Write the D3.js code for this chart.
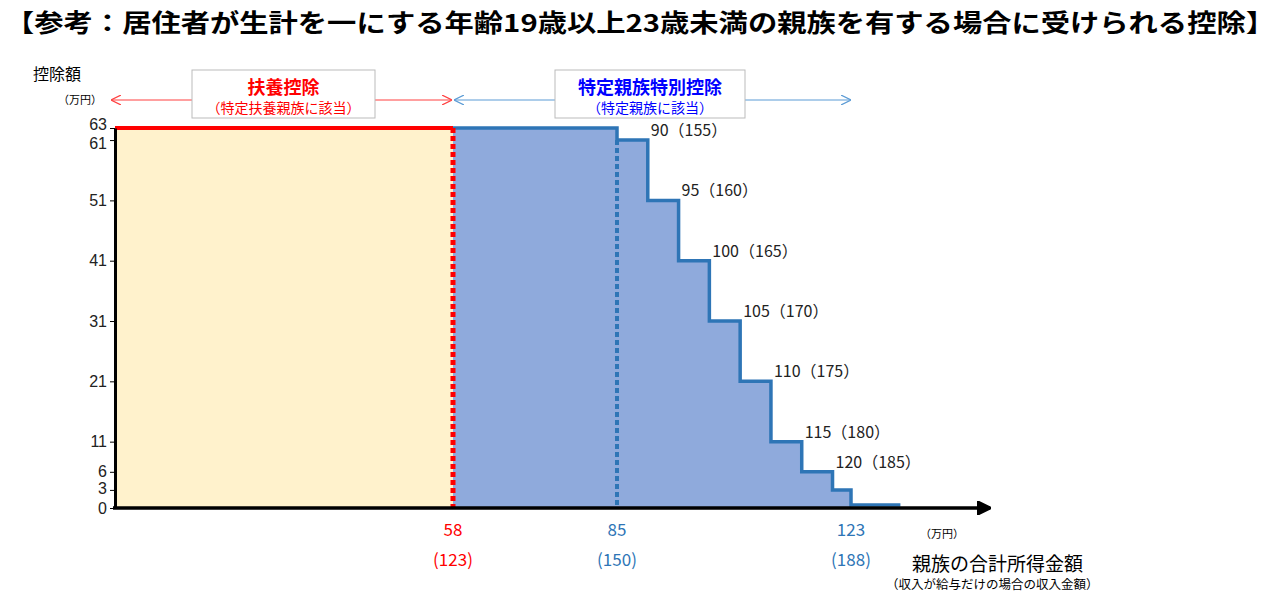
<!DOCTYPE html>
<html><head><meta charset="utf-8">
<script src="https://cdn.jsdelivr.net/npm/d3@7"></script>
<style>body{margin:0;background:#fff}svg{font-family:"Noto Sans CJK JP",sans-serif}</style>
</head><body><svg id="c" width="1280" height="608"></svg>
<script>
const yTicks = [0, 3, 6, 11, 21, 31, 41, 51, 61, 63];
// step function: [income start, deduction]
const steps = [[0, 63], [85, 61], [90, 51], [95, 41], [100, 31], [105, 21], [110, 11], [115, 6], [120, 3], [123, 0], [131, 0]];
const stepLabels = ["90（155）", "95（160）", "100（165）", "105（170）", "110（175）", "115（180）", "120（185）"];
const xMarks = [[58, "(123)", "#ff0000"], [85, "(150)", "#2e75b6"], [123, "(188)", "#2e75b6"]];

const svg = d3.select("#c");
const x = d3.scaleLinear().domain([0, 58, 85, 123, 140]).range([115, 453, 617, 851, 956]);
const y = d3.scaleLinear().domain([0, 63]).range([508, 128]);

const defs = svg.append("defs");
function marker(id, col, w, h) {
  defs.append("marker").attr("id", id).attr("viewBox", "0 0 10 10").attr("refX", 9).attr("refY", 5)
    .attr("markerWidth", w).attr("markerHeight", h).attr("orient", "auto-start-reverse")
    .append("path").attr("d", id === "ax" ? "M0,0L10,5L0,10Z" : "M0,0L10,5L0,10").attr("fill", id === "ax" ? col : "none")
    .attr("stroke", col).attr("stroke-width", 1.2);
}
marker("ar", "#ff4040", 10, 10); marker("ab", "#5b9bd5", 10, 10); marker("ax", "#000", 4, 4);

// areas
svg.append("rect").attr("x", x(0)).attr("y", y(63)).attr("width", x(58) - x(0)).attr("height", y(0) - y(63)).attr("fill", "#fff2cc");
const blue = steps.filter(d => d[0] >= 0);
const area = d3.area().curve(d3.curveStepAfter).x(d => x(Math.max(d[0], 58))).y0(y(0)).y1(d => y(d[1]));
svg.append("path").datum(blue).attr("d", area).attr("fill", "#8faadc");
svg.append("path").datum(steps.filter(d => d[0] >= 58 || d[0] === 0).map(d => [Math.max(d[0], 58), d[1]]))
  .attr("d", d3.line().curve(d3.curveStepAfter).x(d => x(d[0])).y(d => d[1] === 0 ? y(0) - 3 : y(d[1])))
  .attr("fill", "none").attr("stroke", "#2e75b6").attr("stroke-width", 3.5);
svg.append("line").attr("x1", x(0)).attr("x2", x(58)).attr("y1", y(63)).attr("y2", y(63)).attr("stroke", "#ff0000").attr("stroke-width", 4);
svg.append("line").attr("x1", x(58)).attr("x2", x(58)).attr("y1", y(63)).attr("y2", y(0)).attr("stroke", "#ff0000").attr("stroke-width", 5).attr("stroke-dasharray", "5,3");
svg.append("line").attr("x1", x(85)).attr("x2", x(85)).attr("y1", y(61)).attr("y2", y(0)).attr("stroke", "#2e75b6").attr("stroke-width", 4).attr("stroke-dasharray", "5,3");

// step labels
steps.slice(2, 9).forEach((d, i) => {
  svg.append("text").attr("x", x(d[0]) + 3).attr("y", y(steps[i + 1][1]) - 4).attr("font-size", 16).attr("fill", "#222").text(stepLabels[i]);
});

// axes
const ya = svg.append("g").attr("transform", `translate(${x(0)},0)`)
  .call(d3.axisLeft(y).tickValues(yTicks).tickSize(5).tickSizeOuter(0));
ya.select(".domain").attr("stroke-width", 3);
ya.selectAll("text").attr("font-size", 16).attr("fill", "#222")
  .attr("dy", d => d === 63 ? "0.1em" : d === 61 ? "0.55em" : d === 3 ? "0.25em" : "0.32em");
svg.append("line").attr("x1", x(0) - 2).attr("x2", 990).attr("y1", y(0)).attr("y2", y(0)).attr("stroke", "#000").attr("stroke-width", 3.5).attr("marker-end", "url(#ax)");
xMarks.forEach(([v, s, col]) => {
  svg.append("text").attr("x", x(v)).attr("y", 536).attr("text-anchor", "middle").attr("font-size", 17).attr("fill", col).text(v);
  svg.append("text").attr("x", x(v)).attr("y", 566).attr("text-anchor", "middle").attr("font-size", 17).attr("fill", col).text(s);
});

// header annotations
svg.append("line").attr("x1", 112).attr("x2", 451).attr("y1", 100).attr("y2", 100).attr("stroke", "#ff4040").attr("marker-end", "url(#ar)").attr("marker-start", "url(#ar)");
svg.append("line").attr("x1", 455).attr("x2", 850).attr("y1", 100).attr("y2", 100).attr("stroke", "#5b9bd5").attr("marker-end", "url(#ab)").attr("marker-start", "url(#ab)");
[[192, 375, "扶養控除", "（特定扶養親族に該当）", "#ff0000"], [555, 745, "特定親族特別控除", "（特定親族に該当）", "#0000ff"]].forEach(([a, b, t1, t2, col]) => {
  svg.append("rect").attr("x", a).attr("y", 70).attr("width", b - a).attr("height", 48).attr("fill", "#fff").attr("stroke", "#bbb");
  svg.append("text").attr("x", (a + b) / 2).attr("y", 94).attr("text-anchor", "middle").attr("font-size", 18).attr("font-weight", "bold").attr("fill", col).text(t1);
  svg.append("text").attr("x", (a + b) / 2).attr("y", 113).attr("text-anchor", "middle").attr("font-size", 14).attr("fill", col).text(t2);
});

svg.append("text").attr("x", 640).attr("y", 32).attr("text-anchor", "middle").attr("font-size", 24.5).attr("font-weight", "bold")
  .attr("textLength", 1270).attr("lengthAdjust", "spacingAndGlyphs")
  .text("【参考：居住者が生計を一にする年齢19歳以上23歳未満の親族を有する場合に受けられる控除】");
svg.append("text").attr("x", 33).attr("y", 80).attr("font-size", 16).text("控除額");
svg.append("text").attr("x", 58).attr("y", 104).attr("font-size", 11).text("（万円）");
svg.append("text").attr("x", 920).attr("y", 538).attr("font-size", 11).text("（万円）");
svg.append("text").attr("x", 912).attr("y", 571).attr("font-size", 19).text("親族の合計所得金額");
svg.append("text").attr("x", 886).attr("y", 589).attr("font-size", 12.5).text("（収入が給与だけの場合の収入金額）");
</script></body></html>
